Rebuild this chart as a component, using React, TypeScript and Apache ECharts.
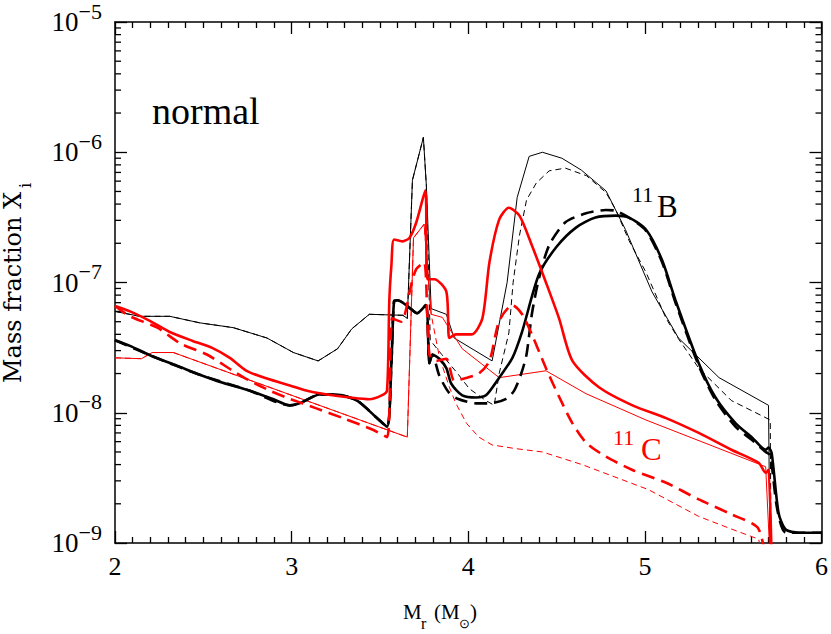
import React, { useEffect, useRef } from "react";
import * as echarts from "echarts";

// ---- data (x = M_r in solar masses, y = mass fraction) ----
const blackThickSolid: number[][] = [
  [2.0, 3.6e-8], [2.085, 3.26e-8], [2.215, 2.7e-8], [2.35, 2.3e-8], [2.48, 1.96e-8], [2.61, 1.7e-8],
  [2.76, 1.48e-8], [2.89, 1.28e-8], [2.99, 1.14e-8], [3.045, 1.18e-8], [3.16, 1.38e-8], [3.25, 1.38e-8],
  [3.37, 1.24e-8], [3.48, 9.2e-9], [3.54, 7.8e-9], [3.565, 2.4e-8], [3.58, 7.2e-8], [3.6, 7.3e-8],
  [3.68, 6.2e-8], [3.71, 5.8e-8], [3.76, 6.7e-8], [3.78, 2.4e-8], [3.797, 2.8e-8], [3.836, 2.6e-8],
  [3.876, 2.2e-8], [3.904, 1.67e-8], [3.966, 1.36e-8], [4.045, 1.31e-8], [4.1, 1.36e-8], [4.175, 1.86e-8],
  [4.25, 2.64e-8], [4.305, 4.2e-8], [4.4, 1.15e-7], [4.5, 1.88e-7], [4.61, 2.64e-7], [4.72, 3.15e-7],
  [4.836, 3.26e-7], [4.91, 3.15e-7], [5.006, 2.55e-7], [5.096, 1.5e-7], [5.175, 7.2e-8], [5.305, 2.4e-8],
  [5.4, 1.31e-8], [5.514, 8.3e-9], [5.605, 6.5e-9], [5.684, 5.2e-9], [5.7, 5.4e-9], [5.718, 4.9e-9],
  [5.757, 1.7e-9], [5.797, 1.27e-9], [5.87, 1.2e-9], [6.0, 1.2e-9],
];

const blackThickDashed: number[][] = [
  [2.0, 3.6e-8], [2.215, 2.7e-8], [2.48, 1.96e-8], [2.76, 1.48e-8], [2.99, 1.14e-8], [3.045, 1.18e-8],
  [3.16, 1.38e-8], [3.25, 1.38e-8], [3.37, 1.24e-8], [3.48, 9.2e-9], [3.54, 7.8e-9], [3.565, 2.4e-8],
  [3.58, 7.2e-8], [3.6, 7.3e-8], [3.68, 6.2e-8], [3.71, 5.8e-8], [3.76, 6.7e-8], [3.78, 2.4e-8],
  [3.797, 2.8e-8], [3.836, 1.93e-8], [3.89, 1.43e-8], [3.94, 1.28e-8], [4.045, 1.18e-8], [4.12, 1.18e-8],
  [4.215, 1.28e-8], [4.26, 1.48e-8], [4.3, 2.0e-8], [4.33, 2.8e-8], [4.36, 5.7e-8], [4.4, 1.07e-7],
  [4.458, 1.93e-7], [4.55, 2.9e-7], [4.667, 3.4e-7], [4.78, 3.6e-7], [4.836, 3.55e-7], [4.91, 3.15e-7],
  [5.006, 2.5e-7], [5.096, 1.45e-7], [5.175, 6.9e-8], [5.305, 2.3e-8], [5.4, 1.25e-8], [5.514, 7.8e-9],
  [5.605, 6.2e-9], [5.684, 5.0e-9], [5.71, 4.7e-9], [5.75, 1.8e-9], [5.8, 1.2e-9], [6.0, 1.2e-9],
];

const blackThinSolid: number[][] = [
  [2.0, 6.0e-8], [2.14, 5.5e-8], [2.31, 5.5e-8], [2.48, 4.9e-8], [2.67, 4.5e-8], [2.86, 3.75e-8],
  [3.01, 2.9e-8], [3.15, 2.5e-8], [3.26, 3.1e-8], [3.34, 4.4e-8], [3.44, 5.7e-8], [3.63, 5.6e-8],
  [3.655, 5.3e-8], [3.684, 6.1e-7], [3.746, 1.3e-6], [3.763, 5.5e-7], [3.79, 6.3e-8], [3.876, 5.7e-8],
  [3.92, 3.75e-8], [4.135, 2.5e-8], [4.22, 1.0e-7], [4.277, 4.5e-7], [4.345, 9.3e-7], [4.42, 1.0e-6],
  [4.53, 9.0e-7], [4.64, 7.3e-7], [4.78, 5.05e-7], [4.89, 2.55e-7], [5.04, 8.5e-8], [5.19, 3.75e-8],
  [5.42, 1.86e-8], [5.7, 1.14e-8], [5.71, 5e-10],
];

const blackThinDashed: number[][] = [
  [2.0, 6.0e-8], [2.14, 5.5e-8], [2.31, 5.5e-8], [2.48, 4.9e-8], [2.67, 4.5e-8], [2.86, 3.75e-8],
  [3.01, 2.9e-8], [3.15, 2.5e-8], [3.26, 3.1e-8], [3.34, 4.4e-8], [3.44, 5.7e-8], [3.63, 5.6e-8],
  [3.655, 5.3e-8], [3.684, 6.1e-7], [3.746, 1.3e-6], [3.763, 5.5e-7], [3.785, 3.6e-8], [3.85, 2.8e-8],
  [3.94, 2.0e-8], [4.006, 1.53e-8], [4.1, 1.24e-8], [4.147, 1.14e-8], [4.175, 2.0e-8], [4.23, 4.1e-8],
  [4.254, 1.0e-7], [4.29, 2.3e-7], [4.33, 4.3e-7], [4.385, 5.8e-7], [4.458, 7.2e-7], [4.55, 7.55e-7],
  [4.67, 6.6e-7], [4.78, 4.9e-7], [4.836, 3.6e-7], [4.91, 2.1e-7], [5.006, 1.2e-7], [5.12, 5.3e-8],
  [5.19, 3.7e-8], [5.305, 2.2e-8], [5.49, 1.24e-8], [5.71, 8.8e-9], [5.715, 5e-10],
];

const redThickSolid: number[][] = [
  [2.0, 6.6e-8], [2.085, 6.0e-8], [2.2, 5.05e-8], [2.31, 4.17e-8], [2.44, 3.56e-8], [2.55, 3.15e-8],
  [2.65, 2.64e-8], [2.745, 2.1e-8], [2.86, 1.83e-8], [2.99, 1.62e-8], [3.1, 1.46e-8], [3.2, 1.38e-8],
  [3.33, 1.31e-8], [3.44, 1.27e-8], [3.51, 1.36e-8], [3.54, 1.48e-8], [3.553, 7.2e-8], [3.565, 1.36e-7],
  [3.58, 2.14e-7], [3.627, 2.07e-7], [3.667, 2.2e-7], [3.706, 2.9e-7], [3.757, 5.1e-7], [3.768, 1.06e-7],
  [3.808, 1.06e-7], [3.876, 8.5e-8], [3.893, 3.75e-8], [3.93, 4.0e-8], [4.02, 4.0e-8], [4.08, 5.3e-8],
  [4.12, 1.43e-7], [4.175, 3.04e-7], [4.23, 3.75e-7], [4.29, 3.26e-7], [4.36, 1.93e-7], [4.44, 1.0e-7],
  [4.514, 5.3e-8], [4.59, 2.5e-8], [4.74, 1.57e-8], [4.93, 1.14e-8], [5.12, 9.1e-9], [5.305, 7.0e-9],
  [5.49, 5.2e-9], [5.644, 4.13e-9], [5.684, 3.46e-9], [5.7, 3.65e-9], [5.72, 5e-10],
];

const redThickDashed: number[][] = [
  [2.0, 6.6e-8], [2.085, 5.5e-8], [2.24, 4.5e-8], [2.37, 3.4e-8], [2.52, 2.8e-8], [2.667, 2.1e-8],
  [2.76, 1.77e-8], [2.876, 1.48e-8], [2.99, 1.28e-8], [3.14, 1.08e-8], [3.29, 9.1e-9], [3.46, 7.4e-9],
  [3.54, 6.5e-9], [3.57, 5.3e-8], [3.62, 5.0e-8], [3.68, 1.0e-7], [3.706, 1.27e-7], [3.75, 1.43e-7],
  [3.78, 2.8e-8], [3.82, 2.5e-8], [3.876, 2.6e-8], [3.92, 1.77e-8], [3.977, 1.83e-8], [4.06, 2.0e-8],
  [4.12, 2.5e-8], [4.175, 5.05e-8], [4.25, 6.7e-8], [4.305, 5.7e-8], [4.36, 4.0e-8], [4.44, 2.2e-8],
  [4.514, 1.33e-8], [4.59, 8.3e-9], [4.667, 5.9e-9], [4.78, 4.6e-9], [4.927, 3.65e-9], [5.12, 2.9e-9],
  [5.305, 2.16e-9], [5.49, 1.66e-9], [5.644, 1.28e-9], [5.7, 5e-10],
];

const redThinSolid: number[][] = [
  [2.0, 2.64e-8], [2.15, 2.6e-8], [2.21, 2.9e-8], [2.33, 2.9e-8], [3.655, 6.5e-9], [3.69, 2.2e-7],
  [3.75, 2.8e-7], [3.79, 5.7e-8], [3.853, 5.4e-8], [3.966, 3.1e-8], [4.175, 1.86e-8], [4.44, 2.1e-8],
  [4.667, 1.4e-8], [5.006, 8.8e-9], [5.684, 3.85e-9], [5.715, 5e-10],
];

const redThinDashed: number[][] = [
  [2.0, 2.64e-8], [2.15, 2.6e-8], [2.21, 2.9e-8], [2.33, 2.9e-8], [3.655, 6.5e-9], [3.69, 2.2e-7],
  [3.75, 2.8e-7], [3.79, 5.7e-8], [3.836, 2.7e-8], [3.893, 1.57e-8], [3.93, 1.18e-8], [3.99, 8.3e-9],
  [4.06, 6.5e-9], [4.135, 5.66e-9], [4.27, 5.3e-9], [4.42, 5.0e-9], [4.644, 4.0e-9], [5.02, 2.57e-9],
  [5.305, 1.6e-9], [5.49, 1.28e-9], [5.644, 1.07e-9], [5.7, 5e-10],
];

const xMin = 2;
const xMax = 6;
const yMin = 1e-9;
const yMax = 1e-5;
const yMinorTicks: number[] = [
  2e-9, 3e-9, 4e-9, 5e-9, 6e-9, 7e-9, 8e-9, 9e-9,
  2e-8, 3e-8, 4e-8, 5e-8, 6e-8, 7e-8, 8e-8, 9e-8,
  2e-7, 3e-7, 4e-7, 5e-7, 6e-7, 7e-7, 8e-7, 9e-7,
  2e-6, 3e-6, 4e-6, 5e-6, 6e-6, 7e-6, 8e-6, 9e-6,
];

const NUM_FONT = "'Liberation Serif', serif";
const WORD_FONT = "'DejaVu Serif', serif";

export default function App() {
  const ref = useRef<HTMLDivElement>(null);
  useEffect(() => {
    if (!ref.current) return;
    const chart = echarts.init(ref.current, null, { renderer: "svg" });

    const xAxisBase = {
      type: "value",
      min: xMin,
      max: xMax,
      interval: 1,
      axisLine: { show: true, onZero: false, lineStyle: { color: "#000", width: 1.5 } },
      axisTick: { show: true, inside: true, length: 12, lineStyle: { color: "#000", width: 1.3 } },
      minorTick: { show: true, splitNumber: 10, length: 6, lineStyle: { color: "#000", width: 1.3 } },
      splitLine: { show: false },
      minorSplitLine: { show: false },
    };
    const yAxisBase = {
      type: "log",
      logBase: 10,
      min: yMin,
      max: yMax,
      axisLine: { show: true, onZero: false, lineStyle: { color: "#000", width: 1.5 } },
      axisTick: { show: true, inside: true, length: 12, lineStyle: { color: "#000", width: 1.3 } },
      splitLine: { show: false },
    };

    const line = (data: number[][], color: string, width: number, dash: any, smooth: number) => ({
      type: "line",
      data,
      xAxisIndex: 0,
      yAxisIndex: 0,
      symbol: "none",
      smooth,
      silent: true,
      lineStyle: { color, width, type: dash },
    });

    const text = (t: string, x: number, y: number, size: number, font: string, color = "#000", extra: any = {}) => ({
      type: "text",
      x,
      y,
      silent: true,
      ...extra,
      style: {
        text: t,
        fill: color,
        font: `${size}px ${font}`,
        textAlign: "left",
        textVerticalAlign: "middle",
      },
    });

    chart.setOption({
      animation: false,
      backgroundColor: "#fff",
      grid: { left: 115, right: 8, top: 17, bottom: 91, containLabel: false },
      xAxis: [
        {
          ...xAxisBase,
          position: "bottom",
          axisLabel: {
            show: true,
            color: "#000",
            fontFamily: NUM_FONT,
            fontSize: 26,
            lineHeight: 26,
            margin: 10,
            showMinLabel: true,
            showMaxLabel: true,
          },
        },
        { ...xAxisBase, position: "top", axisLabel: { show: false } },
      ],
      yAxis: [
        {
          ...yAxisBase,
          position: "left",
          axisLabel: {
            show: true,
            margin: 13,
            showMinLabel: true,
            showMaxLabel: true,
            formatter: (v: number) => {
              const e = Math.round(Math.log10(v));
              return `{b|10}{e|\u2212${-e}}`;
            },
            rich: {
              b: { fontFamily: NUM_FONT, fontSize: 27, lineHeight: 44, color: "#000", verticalAlign: "middle" },
              e: { fontFamily: NUM_FONT, fontSize: 22, lineHeight: 22, color: "#000", verticalAlign: "top" },
            },
          },
        },
        { ...yAxisBase, position: "right", axisLabel: { show: false } },
      ],
      series: [
        {
          type: "custom",
          xAxisIndex: 0,
          yAxisIndex: 0,
          silent: true,
          clip: false,
          data: yMinorTicks.map((v) => [xMin, v]),
          renderItem: (params: any, api: any) => {
            const v = api.value(1);
            const pl = api.coord([xMin, v]);
            const pr = api.coord([xMax, v]);
            const st = { stroke: "#000", lineWidth: 1.3 };
            return {
              type: "group",
              children: [
                { type: "line", shape: { x1: pl[0], y1: pl[1], x2: pl[0] + 6, y2: pl[1] }, style: st },
                { type: "line", shape: { x1: pr[0], y1: pr[1], x2: pr[0] - 6, y2: pr[1] }, style: st },
              ],
            };
          },
        },
        line(blackThinSolid, "#000", 1, "solid", 0),
        line(blackThinDashed, "#000", 1, [6, 4], 0),
        line(redThinSolid, "#ff0000", 1, "solid", 0),
        line(redThinDashed, "#ff0000", 1, [6, 4], 0),
        line(blackThickSolid, "#000", 2.6, "solid", 0.25),
        line(blackThickDashed, "#000", 2.6, [13, 7], 0.25),
        line(redThickSolid, "#ff0000", 2.6, "solid", 0.25),
        line(redThickDashed, "#ff0000", 2.6, [13, 7], 0.25),
      ],
      graphic: [
        text("normal", 152, 111, 38, NUM_FONT),
        text("11", 632, 194.5, 22, NUM_FONT),
        text("B", 657, 206.5, 31, NUM_FONT),
        text("11", 613, 437.5, 22, NUM_FONT, "#ff0000"),
        text("C", 641, 449.5, 31, NUM_FONT, "#ff0000"),
        text("M", 403, 612, 21, NUM_FONT),
        text("r", 421, 623, 16, NUM_FONT, "#000"),
        text("(", 434, 612, 21, NUM_FONT),
        text("M", 441, 612, 21, NUM_FONT),
        text("\u2299", 459, 623, 13, NUM_FONT),
        text(")", 470, 612, 21, NUM_FONT),
        text("Mass fraction X", 13, 383, 24, WORD_FONT, "#000", { rotation: Math.PI / 2 }),
        text("i", 25, 188, 16, WORD_FONT, "#000", { rotation: Math.PI / 2 }),
      ],
    });

    return () => chart.dispose();
  }, []);

  return (
    <div
      ref={ref}
      style={{ position: "absolute", left: 0, top: 0, width: 831, height: 634, background: "#fff" }}
    />
  );
}
